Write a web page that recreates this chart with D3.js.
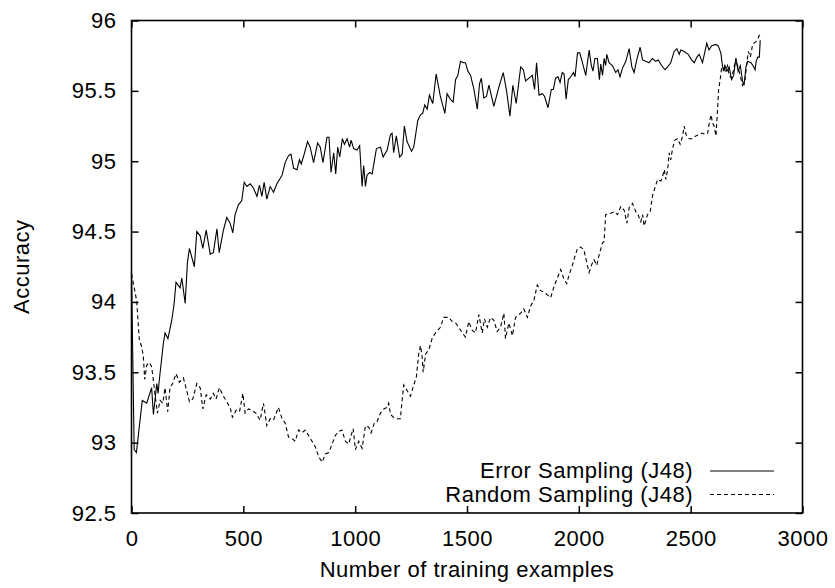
<!DOCTYPE html>
<html>
<head>
<meta charset="utf-8">
<script src="https://cdn.jsdelivr.net/npm/d3@7"></script>
<style>
  html, body { margin: 0; padding: 0; background: #fff; }
  svg text { font-family: "Liberation Sans", Arial, Helvetica, sans-serif; fill: #000; letter-spacing: 0.5px; }
</style>
</head>
<body>
<svg id="chart" width="835" height="588"></svg>
<script>
// ---- Data ----
const xTicks = [0, 500, 1000, 1500, 2000, 2500, 3000];
const yTicks = [92.5, 93, 93.5, 94, 94.5, 95, 95.5, 96];
const seriesNames = ["Error Sampling (J48)", "Random Sampling (J48)"];

const errorSampling = [[0,94.20],[12,92.95],[22,92.93],[48,93.30],[68,93.28],[90,93.39],[98,93.20],[113,93.42],[119,93.35],[124,93.44],[142,93.70],[150,93.78],[163,93.74],[180,93.87],[190,93.98],[199,94.14],[217,94.10],[225,94.17],[240,93.99],[250,94.28],[259,94.38],[281,94.25],[292,94.50],[307,94.47],[319,94.38],[334,94.51],[352,94.34],[366,94.35],[382,94.52],[392,94.35],[411,94.51],[426,94.60],[441,94.56],[453,94.49],[463,94.62],[478,94.69],[493,94.72],[504,94.85],[516,94.82],[531,94.84],[545,94.81],[561,94.75],[572,94.83],[583,94.75],[593,94.85],[605,94.73],[620,94.82],[635,94.78],[650,94.84],[673,94.90],[687,94.99],[702,95.04],[713,95.05],[725,94.95],[740,94.94],[751,95.01],[759,94.98],[772,95.05],[787,95.14],[799,95.10],[814,94.99],[832,95.13],[844,95.10],[856,94.99],[874,95.17],[883,95.17],[892,94.92],[904,95.06],[913,94.91],[922,95.10],[931,95.03],[943,95.16],[952,95.12],[964,95.16],[975,95.10],[982,95.15],[993,95.09],[1008,95.08],[1020,95.11],[1031,94.82],[1038,94.97],[1046,94.82],[1053,94.90],[1065,94.92],[1076,94.91],[1095,95.09],[1113,95.10],[1125,95.03],[1143,95.08],[1158,95.19],[1165,95.20],[1172,95.06],[1184,95.18],[1199,95.03],[1210,95.05],[1220,95.25],[1232,95.14],[1252,95.07],[1262,95.10],[1280,95.29],[1292,95.33],[1302,95.34],[1311,95.40],[1322,95.37],[1332,95.47],[1347,95.41],[1362,95.62],[1381,95.46],[1401,95.34],[1411,95.48],[1426,95.44],[1438,95.42],[1449,95.58],[1459,95.61],[1471,95.71],[1483,95.70],[1493,95.70],[1504,95.64],[1516,95.61],[1531,95.51],[1546,95.37],[1556,95.55],[1564,95.59],[1575,95.45],[1587,95.46],[1598,95.54],[1620,95.39],[1643,95.53],[1662,95.63],[1677,95.50],[1692,95.32],[1705,95.54],[1720,95.41],[1740,95.67],[1752,95.65],[1762,95.57],[1777,95.59],[1792,95.61],[1802,95.51],[1811,95.70],[1822,95.47],[1837,95.48],[1847,95.46],[1862,95.38],[1877,95.51],[1886,95.51],[1896,95.59],[1907,95.60],[1916,95.56],[1926,95.63],[1934,95.62],[1943,95.44],[1953,95.58],[1964,95.60],[1976,95.63],[1983,95.60],[1994,95.77],[2004,95.77],[2016,95.70],[2031,95.61],[2046,95.79],[2056,95.68],[2063,95.64],[2072,95.73],[2083,95.73],[2092,95.58],[2098,95.69],[2106,95.61],[2113,95.73],[2120,95.68],[2125,95.76],[2135,95.70],[2150,95.68],[2165,95.63],[2175,95.65],[2184,95.60],[2195,95.66],[2210,95.71],[2225,95.80],[2237,95.67],[2247,95.63],[2259,95.72],[2274,95.81],[2285,95.72],[2299,95.71],[2314,95.70],[2329,95.73],[2344,95.71],[2355,95.72],[2370,95.68],[2385,95.65],[2397,95.67],[2411,95.70],[2426,95.78],[2438,95.80],[2449,95.76],[2456,95.79],[2471,95.78],[2489,95.76],[2504,95.72],[2516,95.70],[2528,95.74],[2538,95.76],[2553,95.70],[2572,95.84],[2582,95.79],[2594,95.82],[2613,95.83],[2623,95.82],[2635,95.77],[2642,95.68],[2647,95.64],[2653,95.68],[2662,95.64],[2672,95.67],[2683,95.58],[2692,95.61],[2702,95.73],[2712,95.64],[2722,95.68],[2732,95.57],[2739,95.54],[2747,95.67],[2755,95.71],[2770,95.70],[2782,95.67],[2788,95.65],[2793,95.71],[2800,95.74],[2807,95.74],[2811,95.86]];

const randomSampling = [[0,94.20],[23,94.01],[35,93.73],[46,93.68],[53,93.61],[59,93.45],[68,93.55],[80,93.57],[90,93.54],[98,93.44],[105,93.34],[116,93.21],[128,93.30],[140,93.28],[150,93.39],[162,93.22],[172,93.39],[184,93.42],[199,93.49],[214,93.43],[232,93.46],[250,93.35],[259,93.29],[274,93.31],[292,93.42],[307,93.39],[319,93.24],[334,93.34],[352,93.31],[366,93.35],[378,93.31],[393,93.39],[411,93.33],[426,93.29],[441,93.25],[451,93.18],[468,93.23],[483,93.22],[498,93.35],[508,93.21],[523,93.24],[538,93.23],[556,93.21],[575,93.16],[590,93.28],[605,93.12],[620,93.17],[635,93.16],[657,93.25],[673,93.17],[687,93.14],[702,93.04],[717,93.03],[732,93.01],[747,93.09],[762,93.07],[777,93.09],[792,93.05],[807,93.01],[822,92.97],[837,92.90],[852,92.86],[867,92.92],[882,92.93],[897,92.99],[911,93.05],[926,93.08],[941,93.09],[956,93.01],[971,92.99],[982,93.05],[991,93.10],[1001,92.95],[1016,93.01],[1031,92.96],[1046,93.12],[1061,93.11],[1071,93.07],[1086,93.14],[1098,93.15],[1113,93.21],[1128,93.24],[1143,93.25],[1150,93.28],[1158,93.20],[1172,93.18],[1187,93.17],[1202,93.17],[1217,93.41],[1232,93.37],[1247,93.33],[1262,93.41],[1274,93.47],[1284,93.63],[1292,93.69],[1300,93.60],[1304,93.50],[1315,93.63],[1329,93.66],[1344,93.74],[1359,93.78],[1381,93.82],[1396,93.89],[1419,93.89],[1434,93.86],[1449,93.85],[1463,93.82],[1479,93.78],[1493,93.75],[1508,93.86],[1523,93.80],[1538,93.78],[1553,93.91],[1568,93.78],[1578,93.88],[1591,93.82],[1605,93.89],[1620,93.87],[1635,93.79],[1650,93.82],[1665,93.92],[1672,93.74],[1687,93.85],[1703,93.76],[1717,93.89],[1740,93.92],[1754,93.95],[1770,93.89],[1784,93.97],[1799,94.01],[1814,94.12],[1829,94.08],[1844,94.07],[1859,94.05],[1874,94.03],[1889,94.11],[1904,94.17],[1919,94.23],[1934,94.16],[1946,94.13],[1956,94.19],[1971,94.26],[1982,94.32],[1994,94.38],[2008,94.39],[2023,94.37],[2038,94.26],[2046,94.21],[2056,94.26],[2068,94.30],[2080,94.26],[2090,94.33],[2106,94.42],[2113,94.43],[2120,94.62],[2143,94.63],[2158,94.64],[2173,94.62],[2188,94.68],[2203,94.65],[2215,94.56],[2225,94.67],[2240,94.70],[2255,94.64],[2265,94.62],[2277,94.57],[2285,94.62],[2292,94.54],[2307,94.62],[2319,94.64],[2329,94.75],[2340,94.81],[2352,94.87],[2367,94.86],[2374,94.89],[2382,94.94],[2389,94.87],[2397,94.94],[2404,95.06],[2411,95.01],[2419,95.09],[2429,95.15],[2441,95.16],[2453,95.12],[2464,95.18],[2471,95.25],[2479,95.19],[2493,95.16],[2509,95.16],[2523,95.18],[2538,95.19],[2553,95.20],[2564,95.19],[2576,95.20],[2583,95.27],[2591,95.33],[2598,95.27],[2605,95.25],[2613,95.18],[2620,95.36],[2625,95.51],[2632,95.58],[2638,95.66],[2647,95.67],[2655,95.64],[2665,95.68],[2672,95.61],[2683,95.59],[2692,95.65],[2702,95.73],[2710,95.68],[2721,95.61],[2732,95.54],[2743,95.58],[2752,95.71],[2758,95.78],[2767,95.74],[2777,95.83],[2792,95.85],[2800,95.87],[2811,95.91]];

// ---- Layout ----
const plotL = 131.5, plotR = 802.5, plotT = 20.5, plotB = 513;
const fontSize = 22;
const tickLen = 7;

const svg = d3.select("#chart");

const x = d3.scaleLinear().domain([0, 3000]).range([plotL, plotR]);
const y = d3.scaleLinear().domain([92.5, 96]).range([plotB, plotT]);

// Data lines
const line = d3.line().x(d => x(d[0])).y(d => y(d[1]));

svg.append("path")
  .datum(errorSampling)
  .attr("d", line)
  .attr("fill", "none")
  .attr("stroke", "#000")
  .attr("stroke-width", 1.1)
  .attr("stroke-linejoin", "miter");

svg.append("path")
  .datum(randomSampling)
  .attr("d", line)
  .attr("fill", "none")
  .attr("stroke", "#000")
  .attr("stroke-width", 1.1)
  .attr("stroke-dasharray", "4,3");

// Axes (ticks pointing inward, mirrored on all four sides)
const axStyle = g => {
  g.select(".domain").remove();
  g.selectAll(".tick line").attr("stroke", "#000").attr("stroke-width", 1.5);
  g.selectAll(".tick text").attr("font-size", fontSize).attr("fill", "#000")
    .style("font-family", '"Liberation Sans", Arial, sans-serif');
};

svg.append("g")
  .attr("transform", `translate(0,${plotB})`)
  .call(d3.axisBottom(x).tickValues(xTicks).tickFormat(d3.format("d"))
    .tickSizeInner(-tickLen).tickSizeOuter(0).tickPadding(17))
  .call(axStyle)
  .call(g => g.selectAll(".tick text").attr("dy", "0.71em"));

svg.append("g")
  .attr("transform", `translate(0,${plotT})`)
  .call(d3.axisTop(x).tickValues(xTicks).tickFormat("")
    .tickSizeInner(-tickLen).tickSizeOuter(0))
  .call(axStyle);

svg.append("g")
  .attr("transform", `translate(${plotL},0)`)
  .call(d3.axisLeft(y).tickValues(yTicks).tickFormat(d3.format("~g"))
    .tickSizeInner(-tickLen).tickSizeOuter(0).tickPadding(15))
  .call(axStyle);

svg.append("g")
  .attr("transform", `translate(${plotR},0)`)
  .call(d3.axisRight(y).tickValues(yTicks).tickFormat("")
    .tickSizeInner(-tickLen).tickSizeOuter(0))
  .call(axStyle);

// Frame
svg.append("rect")
  .attr("x", plotL).attr("y", plotT)
  .attr("width", plotR - plotL).attr("height", plotB - plotT)
  .attr("fill", "none").attr("stroke", "#000").attr("stroke-width", 1.6);

// Axis titles
svg.append("text")
  .attr("x", (plotL + plotR) / 2).attr("y", 577)
  .attr("text-anchor", "middle")
  .attr("font-size", fontSize)
  .text("Number of training examples");

svg.append("text")
  .attr("transform", `translate(29,${(plotT + plotB) / 2}) rotate(-90)`)
  .attr("text-anchor", "middle")
  .attr("font-size", fontSize)
  .text("Accuracy");

// Legend
const legend = svg.append("g");
const legendRows = [
  { name: seriesNames[0], dash: null, yLine: 471, yText: 478 },
  { name: seriesNames[1], dash: "4,3", yLine: 494.5, yText: 501.5 }
];
legendRows.forEach(r => {
  legend.append("text")
    .attr("x", 693).attr("y", r.yText)
    .attr("text-anchor", "end")
    .attr("font-size", fontSize)
    .text(r.name);
  legend.append("line")
    .attr("x1", 710).attr("x2", 774)
    .attr("y1", r.yLine).attr("y2", r.yLine)
    .attr("stroke", "#000").attr("stroke-width", 1.1)
    .attr("stroke-dasharray", r.dash);
});
</script>
</body>
</html>
